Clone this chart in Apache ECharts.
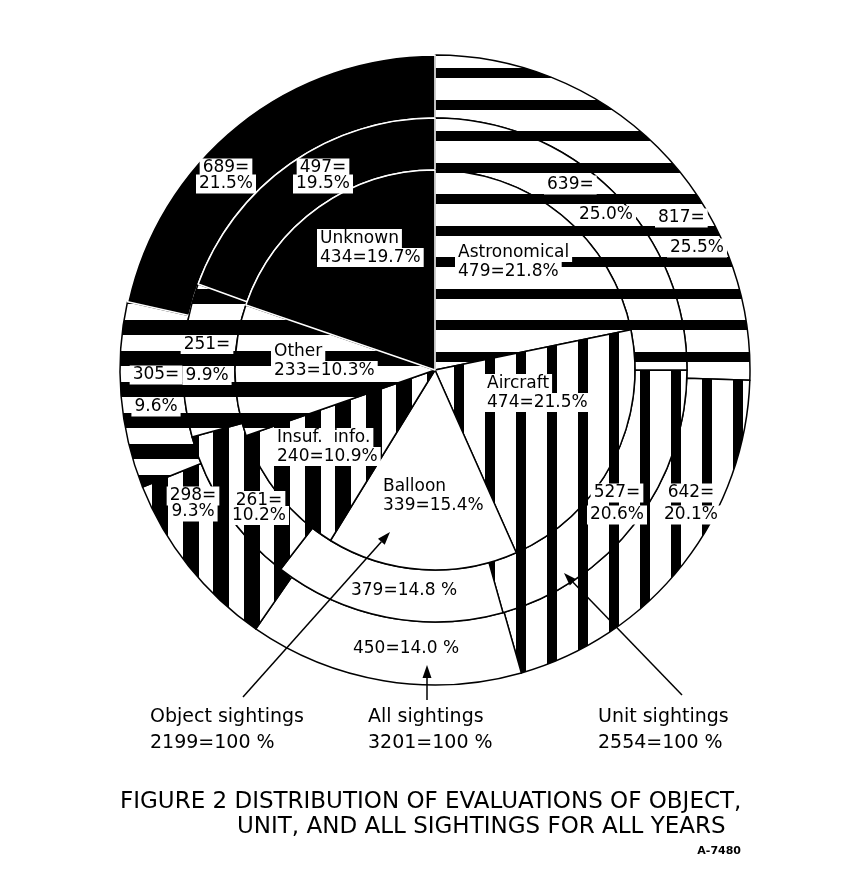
<!DOCTYPE html>
<html><head><meta charset="utf-8">
<script src="https://cdn.jsdelivr.net/npm/echarts@6/dist/echarts.min.js"></script>
<style>html,body{margin:0;padding:0;background:#fff}#c{width:861px;height:879px}</style>
</head><body><div id="c"></div>
<script>
// ---- data ----
const categories = ['Astronomical', 'Aircraft', 'Balloon', 'Insuf.  info.', 'Other', 'Unknown'];
const objectValues = [479, 474, 339, 240, 233, 434];
const objectPct = ['21.8', '21.5', '15.4', '10.9', '10.3', '19.7'];
const unitValues = [639, 527, 379, 261, 251, 497];
const unitPct = ['25.0', '20.6', '14.8', '10.2', '9.9', '19.5'];
const allValues = [817, 642, 450, 298, 305, 689];
const allPct = ['25.5', '20.1', '14.0', '9.3', '9.6', '21.5'];
const ringTitles = ['Object sightings', 'Unit sightings', 'All sightings'];
const titleLines = ['FIGURE 2 DISTRIBUTION OF EVALUATIONS OF OBJECT,', 'UNIT, AND ALL SIGHTINGS FOR ALL YEARS'];
const figureCode = 'A-7480';

// ---- layout (not data) ----
const CX = 435, CY = 370;
const R_IN = 200, R_MID = 252, R_OUT = 315;
const innerLabelAt = [[455, 262], [484, 393], [380, 496], [274, 447], [271, 361], [317, 248]];
const unitLabelAt = [[590, 200], [617, 504], [404, 591], [259, 508], [207, 360], [323, 176]];
const unitLabelLH = [30, 22, 18, 15, 31, 16];
const unitLabelSpan = [92, 0, 0, 0, 0, 0];
const allLabelAt = [[691, 233], [691, 504], [406, 649], [193, 504], [156, 391], [226, 176]];
const allLabelLH = [30, 22, 18, 16, 32, 16];
const allLabelSpan = [72, 0, 0, 0, 0, 0];
const singleLineIdx = 2;
const FONT = 'DejaVu Sans';

function stripes(dir, tile, starts, w) {
  const c = document.createElement('canvas');
  if (dir === 'h') { c.width = 4; c.height = tile; } else { c.width = tile; c.height = 4; }
  const g = c.getContext('2d');
  g.fillStyle = '#fff'; g.fillRect(0, 0, c.width, c.height);
  g.fillStyle = '#000';
  starts.forEach(s => {
    [0, -tile].forEach(o => {
      if (dir === 'h') g.fillRect(0, s + o, 4, w); else g.fillRect(s + o, 0, w, 4);
    });
  });
  return { image: c, repeat: 'repeat' };
}
const fills = [
  stripes('h', 63, [5, 37], 10),   // Astronomical
  stripes('v', 31, [20], 10),      // Aircraft
  '#ffffff',                       // Balloon
  stripes('v', 61, [0, 30], 16),   // Insuf. info.
  stripes('h', 31, [10], 15),      // Other
  '#000000'                        // Unknown
];

function richFor(lh) {
  const base = { fontFamily: FONT, fontSize: 17, color: '#000', backgroundColor: '#fff', padding: [1, 3], lineHeight: lh };
  return { t: base, a: Object.assign({}, base, { align: 'left' }), b: Object.assign({}, base, { align: 'right' }) };
}

function buildData(values, pcts, kind, lhs, spans) {
  return values.map((v, i) => {
    let lines;
    if (kind === 'inner') lines = [categories[i], v + '=' + pcts[i] + '%'];
    else if (i === singleLineIdx) lines = [v + '=' + pcts[i] + ' %'];
    else lines = [v + '=', pcts[i] + '%'];
    const span = spans ? spans[i] : 0;
    let text;
    if (span) text = '{a|' + lines[0] + '}\n{b|' + lines[1] + '}';
    else text = lines.map(l => '{t|' + l + '}').join('\n');
    const lab = { formatter: text, rich: richFor(lhs ? lhs[i] : 19) };
    if (span) lab.width = span;
    return {
      name: categories[i], value: v,
      itemStyle: { color: fills[i], borderColor: i === 5 ? '#fff' : '#000', borderWidth: 1.5 },
      label: lab
    };
  });
}

function pieSeries(values, pcts, kind, r0, r1, at, lhs, spans, align) {
  return {
    type: 'pie', center: [CX, CY], radius: [r0, r1], startAngle: 90, clockwise: true,
    silent: true, avoidLabelOverlap: false, animation: false,
    label: { show: true, position: 'inside' },
    labelLine: { show: false },
    labelLayout: p => ({ x: at[p.dataIndex][0], y: at[p.dataIndex][1], align: align, verticalAlign: 'middle' }),
    data: buildData(values, pcts, kind, lhs, spans)
  };
}

function arrow(x1, y1, x2, y2) {
  const ang = Math.atan2(y2 - y1, x2 - x1), L = 13, W = 4.5;
  const bx = x2 - L * Math.cos(ang), by = y2 - L * Math.sin(ang);
  const px = -Math.sin(ang) * W, py = Math.cos(ang) * W;
  return [
    { type: 'line', shape: { x1, y1, x2: bx, y2: by }, style: { stroke: '#000', lineWidth: 1.5 }, z: 100 },
    { type: 'polygon', shape: { points: [[x2, y2], [bx + px, by + py], [bx - px, by - py]] }, style: { fill: '#000' }, z: 100 }
  ];
}

const sum = a => a.reduce((s, v) => s + v, 0);
const totals = [sum(objectValues), sum(unitValues), sum(allValues)];
const bottomLeft = [150, 598, 368];

const graphics = [];
[0, 1, 2].forEach(k => {
  graphics.push({
    type: 'text', left: bottomLeft[k], top: 704, z: 100,
    style: { text: ringTitles[k] + '\n' + totals[k] + '=100 %', font: '19px "' + FONT + '"', fill: '#000', lineHeight: 26 }
  });
});
graphics.push(...arrow(243, 697, 390, 532));
graphics.push(...arrow(427, 700, 427, 665));
graphics.push(...arrow(682, 695, 564, 573));
graphics.push({ type: 'text', left: 120, top: 791, style: { text: titleLines[0], font: '23px "' + FONT + '"', fill: '#000' } });
graphics.push({ type: 'text', left: 237, top: 816, style: { text: titleLines[1], font: '23px "' + FONT + '"', fill: '#000' } });
graphics.push({ type: 'text', right: 120, top: 846, style: { text: figureCode, font: 'bold 11px "' + FONT + '"', fill: '#000' } });

const chart = echarts.init(document.getElementById('c'), null, { renderer: 'canvas' });
chart.setOption({
  backgroundColor: '#fff',
  animation: false,
  series: [
    pieSeries(allValues, allPct, 'ring', R_MID, R_OUT, allLabelAt, allLabelLH, allLabelSpan, 'center'),
    pieSeries(unitValues, unitPct, 'ring', R_IN, R_MID, unitLabelAt, unitLabelLH, unitLabelSpan, 'center'),
    pieSeries(objectValues, objectPct, 'inner', 0, R_IN, innerLabelAt, null, null, 'left')
  ],
  graphic: graphics
});
</script>
</body></html>
